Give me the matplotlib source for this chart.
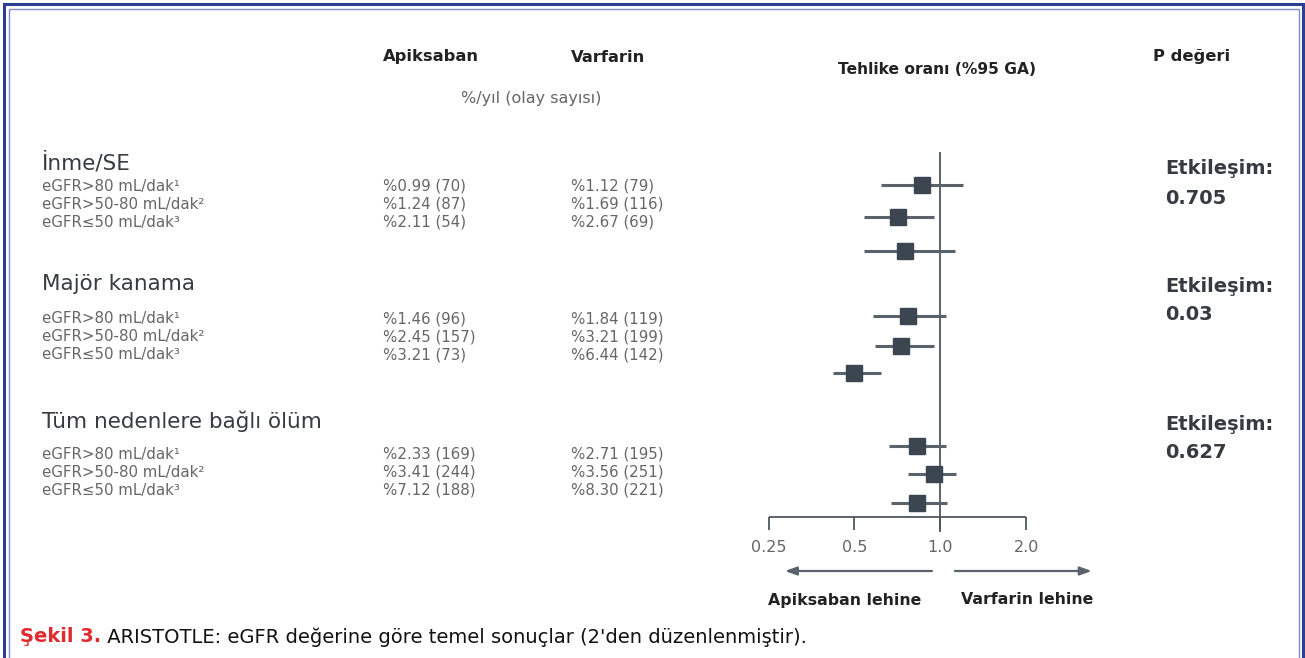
import matplotlib.pyplot as plt

plt.rcParams['font.family'] = ['DejaVu Sans']

# Veriler
groups = ["İnme/SE", "Majör kanama", "Tüm nedenlere bağlı ölüm"]
subgroups = ["eGFR>80 mL/dak¹", "eGFR>50-80 mL/dak²", "eGFR≤50 mL/dak³"]
apix = [["%0.99 (70)", "%1.24 (87)", "%2.11 (54)"],
        ["%1.46 (96)", "%2.45 (157)", "%3.21 (73)"],
        ["%2.33 (169)", "%3.41 (244)", "%7.12 (188)"]]
warf = [["%1.12 (79)", "%1.69 (116)", "%2.67 (69)"],
        ["%1.84 (119)", "%3.21 (199)", "%6.44 (142)"],
        ["%2.71 (195)", "%3.56 (251)", "%8.30 (221)"]]
hr = [[0.86, 0.71, 0.75],
      [0.77, 0.73, 0.50],
      [0.83, 0.95, 0.83]]
lo = [[0.62, 0.54, 0.54],
      [0.58, 0.59, 0.42],
      [0.66, 0.77, 0.67]]
hi = [[1.20, 0.95, 1.13],
      [1.05, 0.95, 0.62],
      [1.05, 1.14, 1.06]]
p_int = ["0.705", "0.03", "0.627"]
xticks = [0.25, 0.5, 1.0, 2.0]
xticklabels = ["0.25", "0.5", "1.0", "2.0"]

# satır konumları (piksel)
head_y = [163, 284, 421]
text_y = [[186, 204, 222], [319, 337, 355], [454, 472, 490]]
plot_y = [[185, 217, 251], [316, 346, 373], [446, 474, 503]]
p_y = [(169, 198), (286, 315), (424, 453)]

W, H = 1305, 658
fig = plt.figure(figsize=(W / 100, H / 100), dpi=100)
bg = fig.add_axes([0, 0, 1, 1])
bg.set_xlim(0, W)
bg.set_ylim(H, 0)
bg.axis('off')

# çerçeve
bg.plot([4, 4, 1303, 1303], [H + 5, 4, 4, H + 5], color='#2b3f94', lw=2.2, solid_joinstyle='miter')
bg.plot([8.5, 8.5, 1299, 1299], [H + 5, 8.5, 8.5, H + 5], color='#7f8dc8', lw=1.0, solid_joinstyle='miter')

dark = '#222222'
grey = '#666666'
head = '#363b41'

bg.text(383, 57, "Apiksaban", fontsize=11.8, fontweight='bold', color=dark, va='center')
bg.text(571, 57, "Varfarin", fontsize=11.8, fontweight='bold', color=dark, va='center')
bg.text(531, 98, "%/yıl (olay sayısı)", fontsize=11.5, color=grey, va='center', ha='center')
bg.text(937, 70, "Tehlike oranı (%95 GA)", fontsize=11.2, fontweight='bold', color=dark,
        va='center', ha='center')
bg.text(1153, 57, "P değeri", fontsize=11.8, fontweight='bold', color=dark, va='center')

for g in range(3):
    bg.text(42, head_y[g], groups[g], fontsize=15.5, color=head, va='center')
    for r in range(3):
        y = text_y[g][r]
        bg.text(42, y, subgroups[r], fontsize=10.8, color=grey, va='center')
        bg.text(383, y, apix[g][r], fontsize=10.8, color=grey, va='center')
        bg.text(571, y, warf[g][r], fontsize=10.8, color=grey, va='center')
    bg.text(1165, p_y[g][0], "Etkileşim:", fontsize=14, fontweight='bold', color=head, va='center')
    bg.text(1165, p_y[g][1], p_int[g], fontsize=14, fontweight='bold', color=head, va='center')

# alt yazı
cap = bg.text(20, 637, "Şekil 3.", fontsize=14, fontweight='bold', color='#e02a2f', va='center')
bg.annotate(" ARISTOTLE: eGFR değerine göre temel sonuçlar (2'den düzenlenmiştir).",
            xy=(1, 0.5), xycoords=cap, va='center', fontsize=14, color='#111111')

# orman grafiği
x0, x1, y0, y1 = 700, 1130, 140, 620
ax = fig.add_axes([x0 / W, 1 - y1 / H, (x1 - x0) / W, (y1 - y0) / H])
ax.set_xscale('log', base=2)
ax.set_xlim(0.1436, 4.63)
ax.set_ylim(y1, y0)
ax.axis('off')
ax.patch.set_alpha(0)

line_c = '#4d565f'
ax.vlines(1.0, 152, 532, color=line_c, lw=1.3)
ax.hlines(517, xticks[0], xticks[-1], color=line_c, lw=1.3)
ax.vlines(xticks, 517, 530, color=line_c, lw=1.3)
for t, lab in zip(xticks, xticklabels):
    ax.text(t, 548, lab, ha='center', va='center', fontsize=11.5, color=grey)

for g in range(3):
    for r in range(3):
        y = plot_y[g][r]
        ax.hlines(y, lo[g][r], hi[g][r], color='#5a636b', lw=2.2, zorder=2)
        ax.plot(hr[g][r], y, marker='s', ms=12, color='#3b4650', mec='#3b4650', zorder=3)

arrow = dict(arrowstyle='-|>,head_length=0.7,head_width=0.25', color='#5a636b', lw=1.6,
             shrinkA=0, shrinkB=0)
ax.annotate("", xy=(0.285, 571), xytext=(0.935, 571), arrowprops=arrow)
ax.annotate("", xy=(3.40, 571), xytext=(1.126, 571), arrowprops=arrow)
ax.text(0.463, 600, "Apiksaban lehine", ha='center', va='center', fontsize=11.3,
        fontweight='bold', color=dark)
ax.text(2.02, 600, "Varfarin lehine", ha='center', va='center', fontsize=11.3,
        fontweight='bold', color=dark)

fig.savefig("out.png", dpi=100)
